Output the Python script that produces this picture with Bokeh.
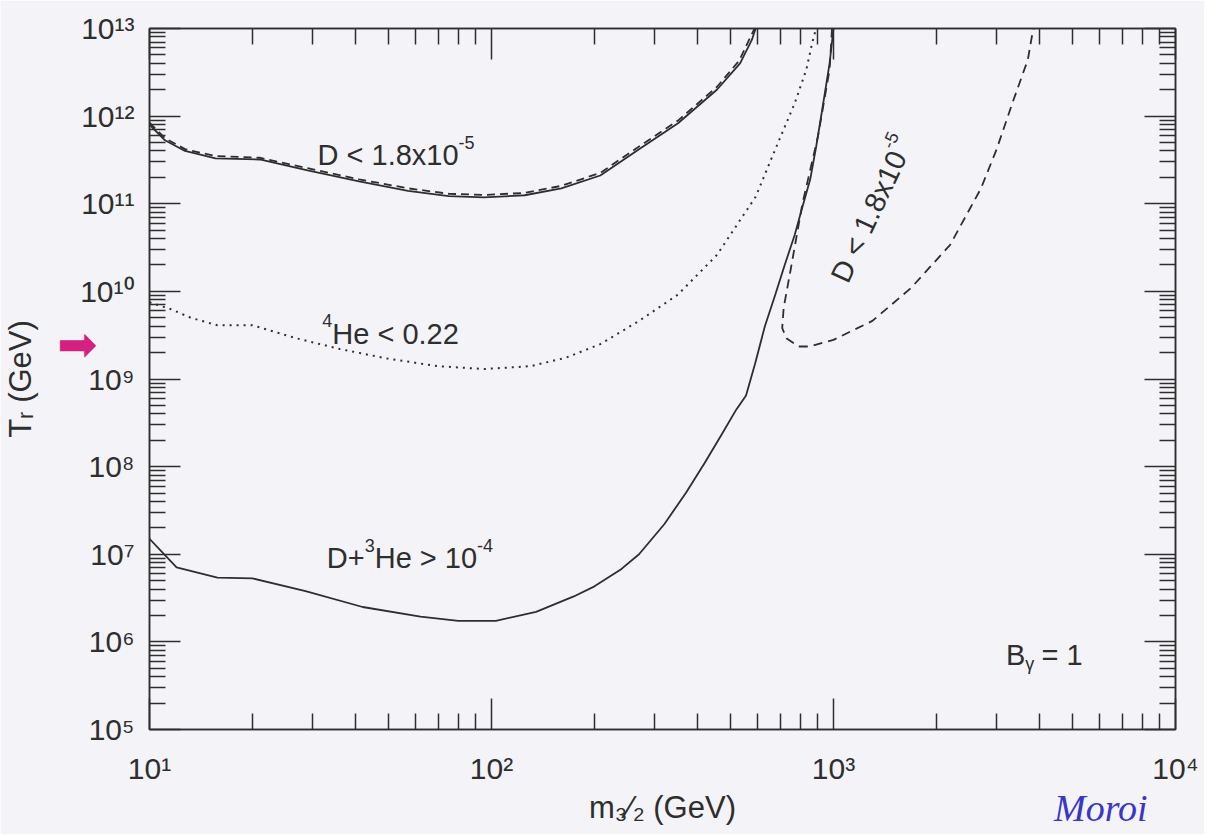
import math
from bokeh.plotting import figure
from bokeh.models import FixedTicker, LogAxis, Label, CustomJSTickFormatter
from bokeh.embed import file_html
from bokeh.resources import INLINE

# ---------------- data ----------------
# D < 1.8x10^-5, solid (upper left curve)
d_solid_x = [10, 11.1, 12.7, 15.6, 21, 29, 41, 57, 75, 95, 125, 160, 208, 270, 351, 456, 533, 577, 592]
d_solid_y = [8.0e11, 5.3e11, 4.0e11, 3.3e11, 3.2e11, 2.4e11, 1.8e11, 1.4e11, 1.22e11, 1.18e11, 1.25e11,
             1.5e11, 2.1e11, 4.2e11, 8.3e11, 2.0e12, 4.0e12, 7.4e12, 1.0e13]
# D < 1.8x10^-5, dashed (overlaid on the solid one)
d_dash_x = [10, 11.1, 12.7, 15.6, 21, 29, 41, 57, 75, 95, 125, 160, 208, 270, 351, 456, 530, 570, 588]
d_dash_y = [8.4e11, 5.6e11, 4.2e11, 3.5e11, 3.35e11, 2.55e11, 1.9e11, 1.5e11, 1.3e11, 1.26e11, 1.33e11,
            1.6e11, 2.25e11, 4.5e11, 8.9e11, 2.15e12, 4.3e12, 7.8e12, 1.0e13]
# 4He < 0.22, dotted
he_x = [10, 11.5, 13.2, 15.8, 20, 27, 36, 50, 70, 95, 130, 165, 208, 270, 351, 456, 592, 676, 770, 833, 866, 889]
he_y = [7.5e9, 6.3e9, 5.0e9, 4.1e9, 4.1e9, 2.9e9, 2.2e9, 1.7e9, 1.4e9, 1.3e9, 1.4e9, 1.75e9, 2.5e9,
        4.6e9, 9.2e9, 2.6e10, 1.2e11, 4.2e11, 1.4e12, 3.4e12, 6.8e12, 1.0e13]
# D+3He > 10^-4, solid (lower curve)
lo_x = [10, 12, 15.8, 20, 28.6, 42, 62, 80, 103, 135, 174, 200, 240, 270, 320, 370, 420, 470, 520, 555,
        590, 630, 676, 720, 770, 810, 855, 890, 924, 974, 1000]
lo_y = [1.5e7, 7.1e6, 5.4e6, 5.3e6, 3.8e6, 2.5e6, 1.94e6, 1.74e6, 1.74e6, 2.2e6, 3.3e6, 4.3e6, 6.8e6, 1.0e7,
        2.2e7, 5.0e7, 1.1e8, 2.3e8, 4.5e8, 6.5e8, 1.5e9, 4.0e9, 9.2e9, 2.0e10, 4.4e10, 9.0e10, 1.9e11,
        4.5e11, 1.1e12, 4.0e12, 1.0e13]
# D < 1.8x10^-5, dashed (right closed region)
r_x = [990, 974, 901, 811, 750, 715, 708, 730, 790, 850, 1000, 1299, 1688, 2193, 2700, 3000, 3333, 3700, 3800, 3850]
r_y = [1.0e13, 3.4e12, 5.9e11, 1.0e11, 1.8e10, 6.5e9, 3.8e9, 2.9e9, 2.35e9, 2.35e9, 2.8e9, 4.6e9, 1.1e10,
       3.4e10, 1.5e11, 4.2e11, 1.4e12, 4.4e12, 8.0e12, 1.0e13]

x_major = [10, 100, 1000, 10000]
x_major_labels = ["10\u00b9", "10\u00b2", "10\u00b3", "10\u2074"]
y_major = [1e5, 1e6, 1e7, 1e8, 1e9, 1e10, 1e11, 1e12, 1e13]
y_major_labels = ["10\u2075", "10\u2076", "10\u2077", "10\u2078", "10\u2079",
                  "10\u00b9\u2070", "10\u00b9\u00b9", "10\u00b9\u00b2", "10\u00b9\u00b3"]

x_title = "m\u2083\u2044\u2082 (GeV)"
y_title = "T\u1d63 (GeV)"

# handwritten marks: signature at the bottom right, arrow on the left
signature_x = 6050
signature_text = "Moroi"
arrow_y = 2.5e9
arrow_text = "\u27a1"

# ---------------- styling ----------------
FONT = "Liberation Sans"
INK = "#2e2e2e"
BG = "#f4f4f8"
BLUE = "#3a37c8"
MAGENTA = "#d4217f"

W, H = 1204, 834
p = figure(width=W, height=H, x_axis_type="log", y_axis_type="log",
           x_range=(10, 1e4), y_range=(1e5, 1e13),
           output_backend="svg", toolbar_location=None,
           min_border_left=149, min_border_right=W - 1175, min_border_top=28, min_border_bottom=H - 729,
           background_fill_color=BG, border_fill_color=BG)
p.grid.visible = False
p.outline_line_color = INK
p.outline_line_width = 1.5

x_minor = [m * d for d in [10, 100, 1000] for m in range(2, 10)]
y_minor = [m * 10 ** e for e in range(5, 13) for m in range(2, 10)]


def style_axis(ax, major, minor, labels=None, standoff=15):
    ax.ticker = FixedTicker(ticks=major, minor_ticks=minor)
    ax.axis_line_color = INK
    ax.axis_line_width = 1.5
    ax.major_tick_line_color = INK
    ax.minor_tick_line_color = INK
    ax.major_tick_line_width = 1.5
    ax.minor_tick_line_width = 1.5
    ax.major_tick_in = 31
    ax.major_tick_out = 0
    ax.minor_tick_in = 16
    ax.minor_tick_out = 0
    if labels is not None:
        ax.major_label_overrides = {float(k): v for k, v in zip(major, labels)}
        ax.major_label_text_font = FONT
        ax.major_label_text_font_size = "30px"
        ax.major_label_text_color = INK
        ax.major_label_standoff = standoff
    else:
        ax.formatter = CustomJSTickFormatter(code="return ''")
        ax.major_label_text_font_size = "2px"
        ax.major_label_standoff = 0


def bare_axis(ax, tick, text, font, size, color, style, standoff):
    ax.ticker = FixedTicker(ticks=[tick], minor_ticks=[])
    ax.major_label_overrides = {float(tick): text}
    ax.axis_line_color = None
    ax.major_tick_line_color = None
    ax.minor_tick_line_color = None
    ax.major_tick_in = 0
    ax.major_tick_out = 0
    ax.minor_tick_in = 0
    ax.minor_tick_out = 0
    ax.major_label_text_font = font
    ax.major_label_text_font_size = size
    ax.major_label_text_font_style = style
    ax.major_label_text_color = color
    ax.major_label_standoff = standoff


style_axis(p.xaxis[0], x_major, x_minor, x_major_labels, standoff=22)
style_axis(p.yaxis[0], y_major, y_minor, y_major_labels, standoff=15)
top = LogAxis()
right = LogAxis()
style_axis(top, x_major, x_minor)
style_axis(right, y_major, y_minor)
p.add_layout(top, "above")
p.add_layout(right, "right")

# outer left axis: the hand-drawn arrow and the y title
ax_left2 = LogAxis()
bare_axis(ax_left2, arrow_y, arrow_text, "DejaVu Sans", "48px", MAGENTA, "normal", -20)
ax_left2.axis_label = y_title
ax_left2.axis_label_text_font = FONT
ax_left2.axis_label_text_font_size = "31px"
ax_left2.axis_label_text_font_style = "normal"
ax_left2.axis_label_text_color = INK
ax_left2.axis_label_standoff = 16
p.add_layout(ax_left2, "left")

# outer bottom axis: the signature and the x title
ax_below2 = LogAxis()
bare_axis(ax_below2, signature_x, signature_text, "Liberation Serif", "38px", BLUE, "italic", -1)
ax_below2.axis_label = x_title
ax_below2.axis_label_text_font = FONT
ax_below2.axis_label_text_font_size = "31px"
ax_below2.axis_label_text_font_style = "normal"
ax_below2.axis_label_text_color = INK
ax_below2.axis_label_standoff = -42
p.add_layout(ax_below2, "below")

# ---------------- curves ----------------
p.line(d_solid_x, d_solid_y, line_color=INK, line_width=1.8)
p.line(d_dash_x, d_dash_y, line_color=INK, line_width=1.8, line_dash="8 5")
p.line(he_x, he_y, line_color=INK, line_width=2.0, line_dash="2 5")
p.line(lo_x, lo_y, line_color=INK, line_width=1.8)
p.line(r_x, r_y, line_color=INK, line_width=1.8, line_dash="9 6")

# ---------------- text helpers ----------------
WID = {"D": 722, " ": 278, "<": 584, ">": 584, "+": 584, "=": 584, "1": 556, "2": 556, "3": 556,
       "4": 556, "0": 556, "8": 556, "5": 556, ".": 278, "x": 500, "H": 722, "e": 556, "B": 667,
       "-": 333, "\u03b3": 900}


def twidth(s, size):
    return sum(WID.get(c, 556) for c in s) / 1000.0 * size


def compose(x, y, segs, angle=0.0):
    """segs: list of (text, size_px, raise_px)."""
    adv = 0.0
    ca, sa = math.cos(angle), math.sin(angle)
    for text, size, rise in segs:
        ox = adv * ca - rise * sa
        oy = adv * sa + rise * ca
        p.add_layout(Label(x=x, y=y, text=text, x_offset=ox, y_offset=oy, angle=angle,
                           text_font=FONT, text_font_size=f"{size}px", text_color=INK,
                           text_align="left", text_baseline="alphabetic"))
        adv += twidth(text, size)


S = 29
SS = 18
compose(31, 3.6e11, [("D < 1.8x10", S, 0), ("-5", SS, 13)])
compose(32, 3.3e9, [("4", SS, 13), ("He < 0.22", S, 0)])
compose(33, 9.0e6, [("D+", S, 0), ("3", SS, 13), ("He > 10", S, 0), ("-4", SS, 13)])
compose(1037, 1.33e10, [("D < 1.8x10", S, 0), ("-5", SS, 13)], angle=math.radians(65))
compose(3195, 7.0e5, [("B", S, 0), ("\u03b3", SS, -9), (" = 1", S, 0)])

open("out.html", "w").write(file_html(p, INLINE))
